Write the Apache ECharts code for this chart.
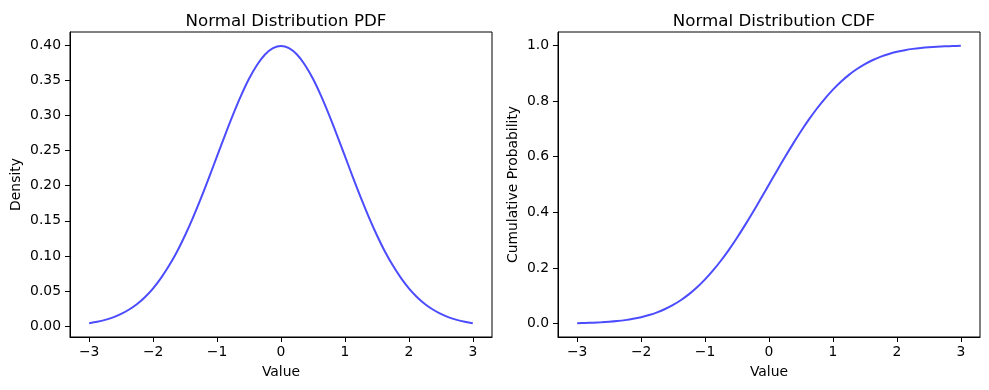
<!DOCTYPE html>
<html><head><meta charset="utf-8">
<script src="https://cdn.jsdelivr.net/npm/echarts@6/dist/echarts.min.js"></script>
<style>html,body{margin:0;padding:0;background:#fff}#c{width:989px;height:390px}</style>
</head><body><div id="c"></div>
<script>
const xValues = [-3,-2.875,-2.75,-2.625,-2.5,-2.375,-2.25,-2.125,-2,-1.875,-1.75,-1.625,-1.5,-1.375,-1.25,-1.125,-1,-0.875,-0.75,-0.625,-0.5,-0.375,-0.25,-0.125,0,0.125,0.25,0.375,0.5,0.625,0.75,0.875,1,1.125,1.25,1.375,1.5,1.625,1.75,1.875,2,2.125,2.25,2.375,2.5,2.625,2.75,2.875,3];
const pdfValues = [0.0044,0.0064,0.0091,0.0127,0.0175,0.0238,0.0317,0.0417,0.0540,0.0689,0.0863,0.1064,0.1295,0.1550,0.1826,0.2119,0.2420,0.2721,0.3011,0.3281,0.3521,0.3718,0.3867,0.3958,0.3989,0.3958,0.3867,0.3718,0.3521,0.3281,0.3011,0.2721,0.2420,0.2119,0.1826,0.1550,0.1295,0.1064,0.0863,0.0689,0.0540,0.0417,0.0317,0.0238,0.0175,0.0127,0.0091,0.0064,0.0044];
const cdfValues = [0.0013,0.0020,0.0030,0.0043,0.0062,0.0088,0.0122,0.0168,0.0228,0.0304,0.0401,0.0521,0.0668,0.0846,0.1056,0.1303,0.1587,0.1908,0.2266,0.2660,0.3085,0.3538,0.4013,0.4503,0.5,0.5497,0.5987,0.6462,0.6915,0.7340,0.7734,0.8092,0.8413,0.8697,0.8944,0.9154,0.9332,0.9479,0.9599,0.9696,0.9772,0.9832,0.9878,0.9912,0.9938,0.9957,0.9970,0.9980,0.9987];
const xTicks = [-3,-2,-1,0,1,2,3];
const pdfTicks = [0,0.05,0.1,0.15,0.2,0.25,0.3,0.35,0.4];
const cdfTicks = [0,0.2,0.4,0.6,0.8,1.0];
const titles = ['Normal Distribution PDF','Normal Distribution CDF'];
const xName = 'Value';
const yNames = ['Density','Cumulative Probability'];

const FONT = 'DejaVu Sans';
const fmtMinus = (s) => s.replace('-', '\u2212');
function xAxis(gi){
  return {type:'value', gridIndex:gi, min:-3.3, max:3.3, name:xName, nameLocation:'middle', nameGap:28,
    nameTextStyle:{fontFamily:FONT,fontSize:13.9,color:'#000'},
    axisLine:{show:true,onZero:false,lineStyle:{color:'#000',width:1}},
    axisTick:{show:true,inside:false,length:5,customValues:xTicks,lineStyle:{color:'#000'}},
    axisLabel:{customValues:xTicks,margin:8,fontFamily:FONT,fontSize:13.9,color:'#000',formatter:v=>fmtMinus(String(v))},
    splitLine:{show:false}};
}
function yAxis(gi,min,max,ticks,dec,gap){
  return {type:'value', gridIndex:gi, min:min, max:max, name:yNames[gi], nameLocation:'middle', nameGap:gap,
    nameTextStyle:{fontFamily:FONT,fontSize:13.9,color:'#000'},
    axisLine:{show:true,onZero:false,lineStyle:{color:'#000',width:1}},
    axisTick:{show:true,inside:false,length:5,customValues:ticks,lineStyle:{color:'#000'}},
    axisLabel:{customValues:ticks,margin:9,fontFamily:FONT,fontSize:13.9,color:'#000',formatter:v=>v.toFixed(dec)},
    splitLine:{show:false}};
}
const chart = echarts.init(document.getElementById('c'),null,{renderer:'canvas'});
chart.setOption({
  animation:false,
  backgroundColor:'#fff',
  title:[
    {text:titles[0],left:281,top:8,textAlign:'center',textStyle:{fontFamily:FONT,fontSize:16.7,fontWeight:'normal',color:'#000'}},
    {text:titles[1],left:769,top:8,textAlign:'center',textStyle:{fontFamily:FONT,fontSize:16.7,fontWeight:'normal',color:'#000'}}
  ],
  grid:[
    {left:70,right:497,top:32,bottom:53,show:true,borderColor:'#000',borderWidth:1},
    {left:558,right:9,top:32,bottom:53,show:true,borderColor:'#000',borderWidth:1}
  ],
  xAxis:[xAxis(0),xAxis(1)],
  yAxis:[yAxis(0,-0.0153,0.4187,pdfTicks,2,47),yAxis(1,-0.0485,1.0485,cdfTicks,1,38)],
  series:[
    {type:'line',xAxisIndex:0,yAxisIndex:0,data:xValues.map((x,i)=>[x,pdfValues[i]]),smooth:0.3,showSymbol:false,lineStyle:{color:'rgba(0,0,255,0.7)',width:2}},
    {type:'line',xAxisIndex:1,yAxisIndex:1,data:xValues.map((x,i)=>[x,cdfValues[i]]),smooth:0.3,showSymbol:false,lineStyle:{color:'rgba(0,0,255,0.7)',width:2}}
  ]
});
</script></body></html>
